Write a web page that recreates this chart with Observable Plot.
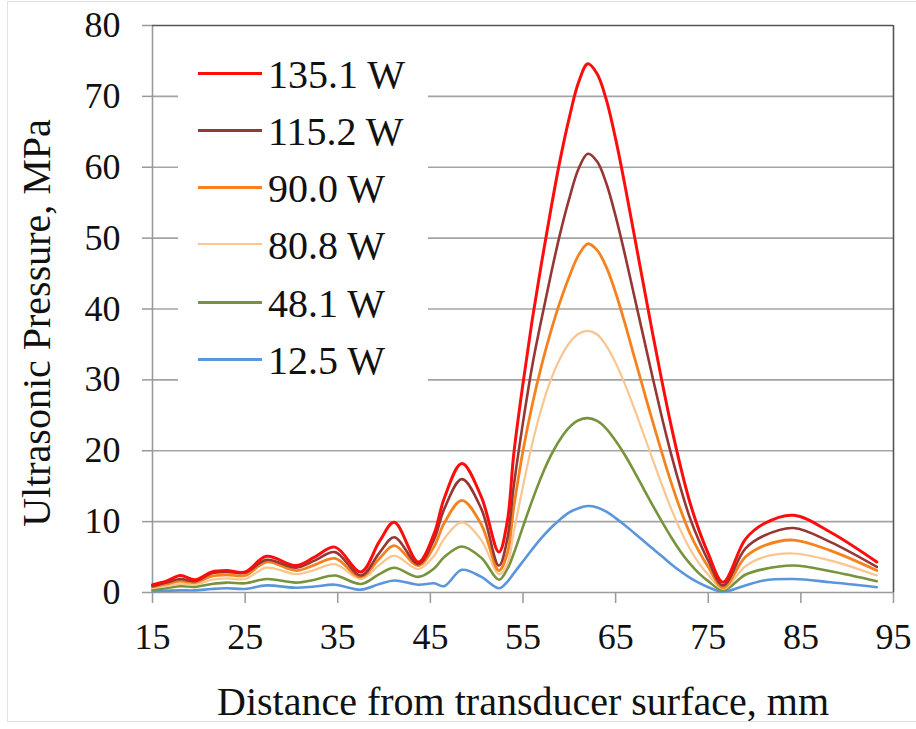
<!DOCTYPE html>
<html>
<head>
<meta charset="utf-8">
<script src="https://cdn.jsdelivr.net/npm/d3@7"></script>
<script src="https://cdn.jsdelivr.net/npm/@observablehq/plot@0.6"></script>
<style>
  html, body { margin: 0; padding: 0; background: #fff; }
  #wrap { position: relative; width: 916px; height: 729px; font-family: "Liberation Serif", "Times New Roman", serif; color: #111; }
  #outer { position: absolute; left: 7px; top: 1px; width: 920px; height: 721px; border: 1.5px solid #e2e2e2; box-sizing: border-box; pointer-events: none; }
  #legend { position: absolute; background: #fff; }
  .row { position: absolute; left: 0; height: 40px; }
  .sw { position: absolute; }
  .lt { position: absolute; font-size: 40px; line-height: 40px; white-space: nowrap; color: #111; }
</style>
</head>
<body>
<div id="wrap"><div id="outer"></div></div>
<script>
// ---- data ----
const distance = [15, 16.5, 18, 19.6, 21.4, 23, 25, 27.3, 30.5, 32.5, 34.7, 37.5, 39.5, 41.1, 43.7, 45.4, 46.5, 48.4, 50.5, 52.4,
  53.3, 54, 55, 56, 57, 58, 59, 60, 61, 62, 63, 64, 65, 66, 67, 68, 69, 70, 71, 72, 73, 74, 75,
  76.6, 79, 81, 84.2, 88.2, 93.2];

const p135_1 = [1.1, 1.6, 2.4, 1.8, 2.9, 3.1, 2.9, 5.1, 3.8, 5.0, 6.4, 2.9, 7.2, 9.9, 4.3, 8.3, 13.3, 18.2, 13.5, 5.7,
  10, 19.5, 29.5, 38.5, 46.5, 54, 61, 67, 72, 74.6, 73.2, 69.5, 64, 57.5, 50.5, 43.5, 36.5, 29.8, 23.5, 17.8, 12.8, 8.8, 5.5,
  1.45, 7.5, 9.7, 10.9, 8.5, 4.3];
const p115_2 = [0.9, 1.4, 1.9, 1.6, 2.7, 2.9, 2.8, 4.6, 3.5, 4.5, 5.7, 2.4, 5.6, 7.8, 4.0, 7.5, 11.8, 16.0, 11.8, 3.8,
  7.5, 15, 24, 32, 38.6, 44.8, 50.6, 55.6, 59.8, 61.9, 60.8, 57.7, 53.1, 47.7, 41.9, 36.1, 30.3, 24.7, 19.5, 14.8, 10.6, 7.3, 4.5,
  1.0, 6.2, 8.0, 9.1, 7.1, 3.6];
const p90_0 = [0.8, 1.2, 1.6, 1.4, 2.3, 2.5, 2.4, 4.3, 3.1, 3.9, 4.8, 2.2, 4.8, 6.6, 3.8, 6.5, 9.8, 13.0, 9.6, 3.1,
  5.5, 12, 20, 26.5, 32, 36.8, 41, 44.6, 47.6, 49.2, 48.3, 45.9, 42.3, 38.0, 33.3, 28.7, 24.1, 19.7, 15.5, 11.7, 8.4, 5.8, 3.6,
  0.7, 5.0, 6.6, 7.4, 5.9, 3.1];
const p80_8 = [0.6, 0.9, 1.2, 1.1, 1.8, 2.0, 1.9, 3.5, 2.6, 3.2, 4.0, 1.9, 3.9, 5.2, 3.3, 5.2, 7.6, 9.9, 7.4, 2.6,
  4, 8.5, 15, 21, 26, 30, 33, 35.2, 36.5, 36.9, 36.4, 34.8, 32.4, 29.4, 26, 22.4, 18.8, 15.2, 11.8, 8.8, 6.2, 4.1, 2.5,
  0.5, 3.7, 5.0, 5.5, 4.5, 2.4];
const p48_1 = [0.4, 0.6, 0.9, 0.8, 1.2, 1.4, 1.3, 1.9, 1.4, 1.8, 2.4, 1.2, 2.6, 3.5, 2.2, 3.4, 5.0, 6.5, 4.9, 1.8,
  3.3, 5.5, 9.3, 13, 16.4, 19.3, 21.6, 23.3, 24.3, 24.6, 24.2, 23.1, 21.4, 19.4, 17.1, 14.7, 12.3, 10, 7.8, 5.8, 4.1, 2.7, 1.6,
  0.3, 2.5, 3.3, 3.8, 3.0, 1.6];
const p12_5 = [0.2, 0.25, 0.3, 0.3, 0.5, 0.6, 0.5, 1.0, 0.66, 0.85, 1.1, 0.4, 1.2, 1.7, 1.1, 1.3, 0.9, 3.2, 2.2, 0.6,
  1.5, 2.7, 4.4, 6.1, 7.7, 9.1, 10.3, 11.3, 11.9, 12.2, 12.0, 11.4, 10.5, 9.5, 8.4, 7.3, 6.2, 5.1, 4.0, 3.0, 2.1, 1.35, 0.75,
  0.1, 1.0, 1.7, 1.9, 1.45, 0.75];

const seriesNames = ["135.1 W", "115.2 W", "90.0 W", "80.8 W", "48.1 W", "12.5 W"];
const seriesValues = [p135_1, p115_2, p90_0, p80_8, p48_1, p12_5];
const seriesColors = ["#ff0d0d", "#953735", "#f5821f", "#fac58f", "#77933c", "#5b96dc"];
const seriesWidths = [3, 2.6, 2.8, 2.2, 2.6, 2.6];

const xTicks = [15, 25, 35, 45, 55, 65, 75, 85, 95];
const yTicks = [0, 10, 20, 30, 40, 50, 60, 70, 80];
const xTitle = "Distance from transducer surface, mm";
const yTitle = "Ultrasonic Pressure, MPa";

// ---- build ----
const xDomain = [xTicks[0], xTicks[xTicks.length - 1]];
const yDomain = [yTicks[0], yTicks[yTicks.length - 1]];

const lineMarks = [];
for (let s = seriesNames.length - 1; s >= 0; s--) {
  const rows = distance.map((d, i) => ({x: d, y: seriesValues[s][i]}));
  lineMarks.push(Plot.line(rows, {x: "x", y: "y", stroke: seriesColors[s], strokeWidth: seriesWidths[s], curve: "catmull-rom"}));
}

const plot = Plot.plot({
  width: 916,
  height: 729,
  marginLeft: 152,
  marginRight: 23,
  marginTop: 25,
  marginBottom: 137,
  style: {fontFamily: "'Liberation Serif', 'Times New Roman', serif", fontSize: "36px", color: "#111", background: "transparent", overflow: "visible"},
  x: {domain: xDomain},
  y: {domain: yDomain},
  marks: [
    Plot.ruleY(yTicks.slice(1, -1), {stroke: "#a3a3a3", strokeWidth: 1.6}),
    Plot.axisY(yTicks, {tickSize: 10, tickPadding: 22, stroke: "#999", strokeWidth: 1.5, fontSize: 36, fill: "#111", label: null}),
    Plot.axisX(xTicks, {tickSize: 11, tickPadding: 20, stroke: "#999", strokeWidth: 1.5, fontSize: 36, fill: "#111", label: null}),
    Plot.ruleX([xDomain[0]], {stroke: "#9a9a9a", strokeWidth: 1.6}),
    Plot.ruleY([yDomain[0]], {stroke: "#9a9a9a", strokeWidth: 1.6}),
    Plot.ruleY([yDomain[1]], {stroke: "#555", strokeWidth: 1.6}),
    Plot.ruleX([xDomain[1]], {stroke: "#555", strokeWidth: 1.6}),
    ...lineMarks,
    Plot.text([xTitle], {frameAnchor: "bottom", dy: 122, lineAnchor: "bottom", fontSize: 40, fill: "#111", text: d => d}),
    Plot.text([yTitle], {frameAnchor: "left", rotate: -90, dx: -131, dy: 14, textAnchor: "middle", lineAnchor: "top", fontSize: 40, fill: "#111", text: d => d})
  ]
});

const wrap = document.getElementById("wrap");
wrap.insertBefore(plot, wrap.firstChild);

// ---- legend (HTML overlay) ----
const legend = document.createElement("div");
legend.id = "legend";
Object.assign(legend.style, {left: "178px", top: "45px", width: "250px", height: "343px"});
const rowCenters = [28, 85, 142, 199, 257, 314];
seriesNames.forEach((name, i) => {
  const row = document.createElement("div");
  row.className = "row";
  row.style.top = (rowCenters[i] - 20) + "px";
  row.style.width = "250px";
  const sw = document.createElement("div");
  sw.className = "sw";
  const h = seriesWidths[i] >= 2.6 ? 3 : 2.5;
  Object.assign(sw.style, {left: "20px", width: "64px", top: (20 - h / 2) + "px", background: seriesColors[i], height: h + "px"});
  const t = document.createElement("div");
  t.className = "lt";
  Object.assign(t.style, {left: "90px", top: "2px"});
  t.textContent = name;
  row.appendChild(sw);
  row.appendChild(t);
  legend.appendChild(row);
});
wrap.appendChild(legend);
</script>
</body>
</html>
